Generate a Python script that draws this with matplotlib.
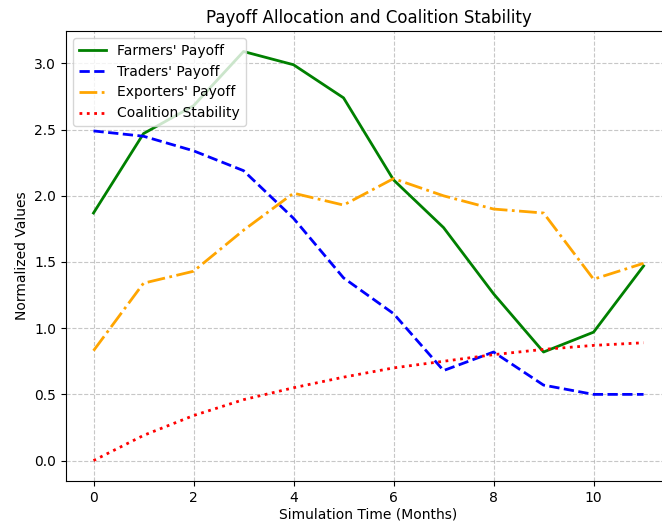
import matplotlib
matplotlib.use("Agg")
import matplotlib.pyplot as plt

months = list(range(12))
farmers = [1.87, 2.47, 2.68, 3.09, 2.99, 2.74, 2.12, 1.76, 1.26, 0.82, 0.97, 1.47]
traders = [2.49, 2.45, 2.34, 2.19, 1.83, 1.38, 1.11, 0.68, 0.82, 0.57, 0.50, 0.50]
exporters = [0.83, 1.34, 1.43, 1.74, 2.02, 1.93, 2.13, 2.00, 1.90, 1.87, 1.37, 1.49]
stability = [0.0, 0.19, 0.34, 0.46, 0.55, 0.63, 0.70, 0.75, 0.80, 0.84, 0.87, 0.89]

fig = plt.figure(figsize=(6.62, 5.22), dpi=100)
ax = fig.add_axes([0.0997, 0.0785, 0.914, 0.862])
ax.plot(months, farmers, color="green", linestyle="-", linewidth=2, label="Farmers' Payoff")
ax.plot(months, traders, color="blue", linestyle="--", linewidth=2, label="Traders' Payoff")
ax.plot(months, exporters, color="orange", linestyle="-.", linewidth=2, label="Exporters' Payoff")
ax.plot(months, stability, color="red", linestyle=":", linewidth=2, label="Coalition Stability")
ax.set_title("Payoff Allocation and Coalition Stability")
ax.set_xlabel("Simulation Time (Months)", labelpad=2)
ax.set_ylabel("Normalized Values")
ax.grid(True, linestyle="--", alpha=0.7)
ax.legend(loc="upper left")
fig.savefig("out.png", dpi=100)
